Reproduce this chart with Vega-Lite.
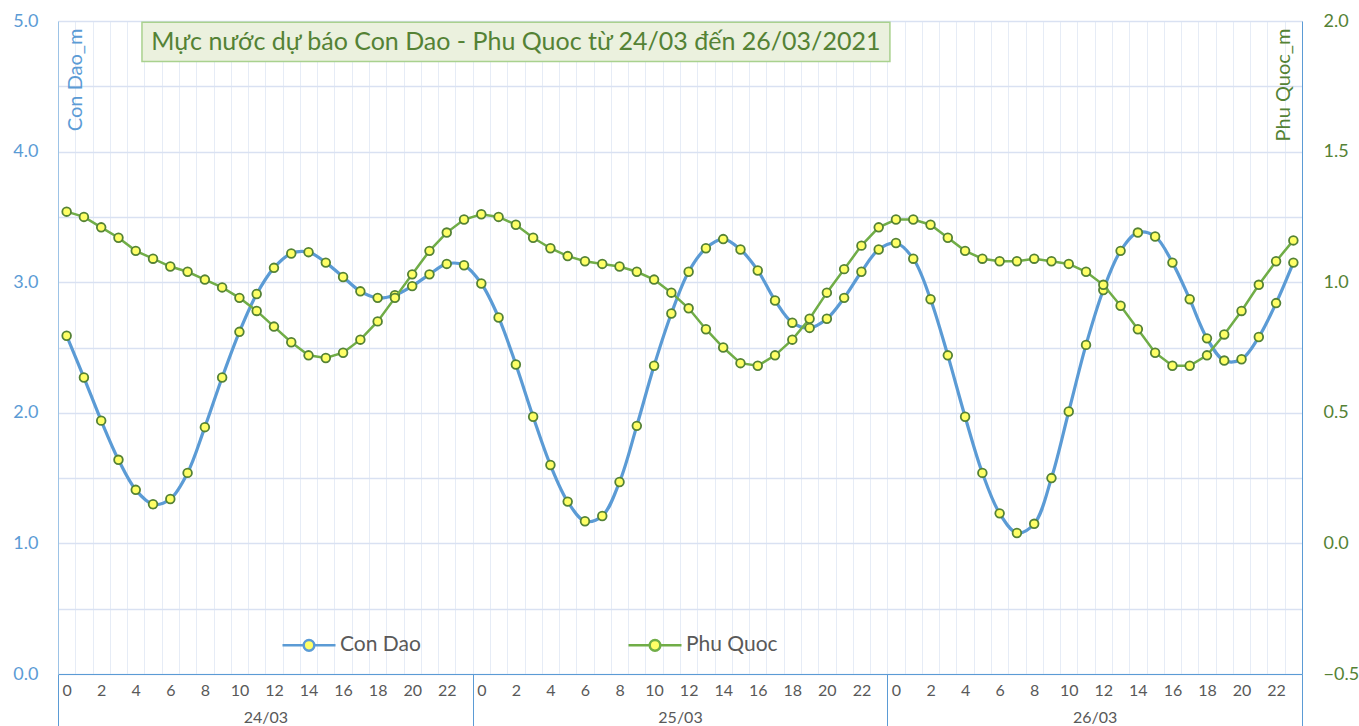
{
  "$schema": "https://vega.github.io/schema/vega-lite/v6.json",
  "autosize": {"type": "none"},
  "width": 1244,
  "height": 653,
  "padding": {"left": 58, "top": 21, "right": 57, "bottom": 52},
  "background": "white",
  "config": {"view": {"stroke": null}, "font": "Lato", "axis": {"labelFont": "Lato", "titleFont": "Lato"}, "legend": {"labelFont": "Lato"}},
  "data": {"values": [
    {"idx":0,"day":"24/03","hour":0,"con_dao":2.59,"phu_quoc":1.27},
    {"idx":1,"day":"24/03","hour":1,"con_dao":2.27,"phu_quoc":1.25},
    {"idx":2,"day":"24/03","hour":2,"con_dao":1.94,"phu_quoc":1.21},
    {"idx":3,"day":"24/03","hour":3,"con_dao":1.64,"phu_quoc":1.17},
    {"idx":4,"day":"24/03","hour":4,"con_dao":1.41,"phu_quoc":1.12},
    {"idx":5,"day":"24/03","hour":5,"con_dao":1.30,"phu_quoc":1.09},
    {"idx":6,"day":"24/03","hour":6,"con_dao":1.34,"phu_quoc":1.06},
    {"idx":7,"day":"24/03","hour":7,"con_dao":1.54,"phu_quoc":1.04},
    {"idx":8,"day":"24/03","hour":8,"con_dao":1.89,"phu_quoc":1.01},
    {"idx":9,"day":"24/03","hour":9,"con_dao":2.27,"phu_quoc":0.98},
    {"idx":10,"day":"24/03","hour":10,"con_dao":2.62,"phu_quoc":0.94},
    {"idx":11,"day":"24/03","hour":11,"con_dao":2.91,"phu_quoc":0.89},
    {"idx":12,"day":"24/03","hour":12,"con_dao":3.11,"phu_quoc":0.83},
    {"idx":13,"day":"24/03","hour":13,"con_dao":3.22,"phu_quoc":0.77},
    {"idx":14,"day":"24/03","hour":14,"con_dao":3.23,"phu_quoc":0.72},
    {"idx":15,"day":"24/03","hour":15,"con_dao":3.15,"phu_quoc":0.71},
    {"idx":16,"day":"24/03","hour":16,"con_dao":3.04,"phu_quoc":0.73},
    {"idx":17,"day":"24/03","hour":17,"con_dao":2.93,"phu_quoc":0.78},
    {"idx":18,"day":"24/03","hour":18,"con_dao":2.88,"phu_quoc":0.85},
    {"idx":19,"day":"24/03","hour":19,"con_dao":2.90,"phu_quoc":0.94},
    {"idx":20,"day":"24/03","hour":20,"con_dao":2.97,"phu_quoc":1.03},
    {"idx":21,"day":"24/03","hour":21,"con_dao":3.06,"phu_quoc":1.12},
    {"idx":22,"day":"24/03","hour":22,"con_dao":3.14,"phu_quoc":1.19},
    {"idx":23,"day":"24/03","hour":23,"con_dao":3.13,"phu_quoc":1.24},
    {"idx":24,"day":"25/03","hour":0,"con_dao":2.99,"phu_quoc":1.26},
    {"idx":25,"day":"25/03","hour":1,"con_dao":2.73,"phu_quoc":1.25},
    {"idx":26,"day":"25/03","hour":2,"con_dao":2.37,"phu_quoc":1.22},
    {"idx":27,"day":"25/03","hour":3,"con_dao":1.97,"phu_quoc":1.17},
    {"idx":28,"day":"25/03","hour":4,"con_dao":1.60,"phu_quoc":1.13},
    {"idx":29,"day":"25/03","hour":5,"con_dao":1.32,"phu_quoc":1.10},
    {"idx":30,"day":"25/03","hour":6,"con_dao":1.17,"phu_quoc":1.08},
    {"idx":31,"day":"25/03","hour":7,"con_dao":1.21,"phu_quoc":1.07},
    {"idx":32,"day":"25/03","hour":8,"con_dao":1.47,"phu_quoc":1.06},
    {"idx":33,"day":"25/03","hour":9,"con_dao":1.90,"phu_quoc":1.04},
    {"idx":34,"day":"25/03","hour":10,"con_dao":2.36,"phu_quoc":1.01},
    {"idx":35,"day":"25/03","hour":11,"con_dao":2.76,"phu_quoc":0.96},
    {"idx":36,"day":"25/03","hour":12,"con_dao":3.08,"phu_quoc":0.90},
    {"idx":37,"day":"25/03","hour":13,"con_dao":3.26,"phu_quoc":0.82},
    {"idx":38,"day":"25/03","hour":14,"con_dao":3.33,"phu_quoc":0.75},
    {"idx":39,"day":"25/03","hour":15,"con_dao":3.25,"phu_quoc":0.69},
    {"idx":40,"day":"25/03","hour":16,"con_dao":3.09,"phu_quoc":0.68},
    {"idx":41,"day":"25/03","hour":17,"con_dao":2.86,"phu_quoc":0.72},
    {"idx":42,"day":"25/03","hour":18,"con_dao":2.69,"phu_quoc":0.78},
    {"idx":43,"day":"25/03","hour":19,"con_dao":2.65,"phu_quoc":0.86},
    {"idx":44,"day":"25/03","hour":20,"con_dao":2.72,"phu_quoc":0.96},
    {"idx":45,"day":"25/03","hour":21,"con_dao":2.88,"phu_quoc":1.05},
    {"idx":46,"day":"25/03","hour":22,"con_dao":3.08,"phu_quoc":1.14},
    {"idx":47,"day":"25/03","hour":23,"con_dao":3.25,"phu_quoc":1.21},
    {"idx":48,"day":"26/03","hour":0,"con_dao":3.30,"phu_quoc":1.24},
    {"idx":49,"day":"26/03","hour":1,"con_dao":3.18,"phu_quoc":1.24},
    {"idx":50,"day":"26/03","hour":2,"con_dao":2.87,"phu_quoc":1.22},
    {"idx":51,"day":"26/03","hour":3,"con_dao":2.44,"phu_quoc":1.17},
    {"idx":52,"day":"26/03","hour":4,"con_dao":1.97,"phu_quoc":1.12},
    {"idx":53,"day":"26/03","hour":5,"con_dao":1.54,"phu_quoc":1.09},
    {"idx":54,"day":"26/03","hour":6,"con_dao":1.23,"phu_quoc":1.08},
    {"idx":55,"day":"26/03","hour":7,"con_dao":1.08,"phu_quoc":1.08},
    {"idx":56,"day":"26/03","hour":8,"con_dao":1.15,"phu_quoc":1.09},
    {"idx":57,"day":"26/03","hour":9,"con_dao":1.50,"phu_quoc":1.08},
    {"idx":58,"day":"26/03","hour":10,"con_dao":2.01,"phu_quoc":1.07},
    {"idx":59,"day":"26/03","hour":11,"con_dao":2.52,"phu_quoc":1.04},
    {"idx":60,"day":"26/03","hour":12,"con_dao":2.94,"phu_quoc":0.99},
    {"idx":61,"day":"26/03","hour":13,"con_dao":3.24,"phu_quoc":0.91},
    {"idx":62,"day":"26/03","hour":14,"con_dao":3.38,"phu_quoc":0.82},
    {"idx":63,"day":"26/03","hour":15,"con_dao":3.35,"phu_quoc":0.73},
    {"idx":64,"day":"26/03","hour":16,"con_dao":3.15,"phu_quoc":0.68},
    {"idx":65,"day":"26/03","hour":17,"con_dao":2.87,"phu_quoc":0.68},
    {"idx":66,"day":"26/03","hour":18,"con_dao":2.57,"phu_quoc":0.72},
    {"idx":67,"day":"26/03","hour":19,"con_dao":2.40,"phu_quoc":0.80},
    {"idx":68,"day":"26/03","hour":20,"con_dao":2.41,"phu_quoc":0.89},
    {"idx":69,"day":"26/03","hour":21,"con_dao":2.58,"phu_quoc":0.99},
    {"idx":70,"day":"26/03","hour":22,"con_dao":2.84,"phu_quoc":1.08},
    {"idx":71,"day":"26/03","hour":23,"con_dao":3.15,"phu_quoc":1.16}
  ]},
  "layer": [
    {
      "mark": {"type": "point", "opacity": 0},
      "encoding": {
        "x": {"field": "idx", "type": "quantitative", "scale": {"domain": [-0.5, 71.5], "nice": false, "zero": false},
          "axis": {"orient": "bottom", "values": [-0.5,0.5,1.5,2.5,3.5,4.5,5.5,6.5,7.5,8.5,9.5,10.5,11.5,12.5,13.5,14.5,15.5,16.5,17.5,18.5,19.5,20.5,21.5,22.5,23.5,24.5,25.5,26.5,27.5,28.5,29.5,30.5,31.5,32.5,33.5,34.5,35.5,36.5,37.5,38.5,39.5,40.5,41.5,42.5,43.5,44.5,45.5,46.5,47.5,48.5,49.5,50.5,51.5,52.5,53.5,54.5,55.5,56.5,57.5,58.5,59.5,60.5,61.5,62.5,63.5,64.5,65.5,66.5,67.5,68.5,69.5,70.5,71.5],
            "grid": true, "gridColor": "#E6ECF6", "gridWidth": 1, "labels": false, "ticks": false, "domain": false, "title": null}},
        "y": {"field": "con_dao", "type": "quantitative", "scale": {"domain": [0, 5], "nice": false, "zero": false},
          "axis": {"orient": "left", "values": [0,0.5,1,1.5,2,2.5,3,3.5,4,4.5,5],
            "labelExpr": "datum.value % 1 == 0 ? format(datum.value, '.1f') : ''",
            "grid": true, "gridColor": "#D9E1F2", "gridWidth": 1.5, "ticks": false, "domain": true, "domainColor": "#9DC3E6", "domainWidth": 1,
            "labelColor": "#5B9BD5", "labelFontSize": 18, "labelPadding": 20,
            "title": "Con Dao_m", "titleColor": "#5B9BD5", "titleFontSize": 20, "titleFontWeight": "normal",
            "titleAngle": -90, "titleX": 17, "titleY": 7, "titleAlign": "right", "titleBaseline": "middle"}}
      }
    },
    {
      "mark": {"type": "rect", "fill": "#EBF1DE", "stroke": "#A9D18E", "strokeWidth": 1.5},
      "data": {"values": [{}]},
      "encoding": {
        "x": {"datum": 4.36, "type": "quantitative", "scale": {"domain": [-0.5, 71.5], "nice": false, "zero": false}, "axis": null},
        "x2": {"datum": 47.65},
        "y": {"datum": 4.99, "type": "quantitative", "scale": {"domain": [0, 5], "nice": false, "zero": false}, "axis": null},
        "y2": {"datum": 4.69}
      }
    },
    {
      "mark": {"type": "text", "fontSize": 25, "color": "#548235", "align": "center", "baseline": "middle", "font": "Lato"},
      "data": {"values": [{}]},
      "encoding": {
        "x": {"datum": 26.0, "type": "quantitative", "scale": {"domain": [-0.5, 71.5], "nice": false, "zero": false}, "axis": null},
        "y": {"datum": 4.84, "type": "quantitative", "scale": {"domain": [0, 5], "nice": false, "zero": false}, "axis": null},
        "text": {"value": "Mực nước dự báo Con Dao - Phu Quoc từ 24/03 đến 26/03/2021"}
      }
    },
    {
      "mark": {"type": "line", "interpolate": "catmull-rom", "strokeWidth": 3.2},
      "encoding": {
        "x": {"field": "idx", "type": "quantitative", "scale": {"domain": [-0.5, 71.5], "nice": false, "zero": false},
          "axis": {"orient": "bottom", "values": [0,2,4,6,8,10,12,14,16,18,20,22,24,26,28,30,32,34,36,38,40,42,44,46,48,50,52,54,56,58,60,62,64,66,68,70],
            "labelExpr": "'' + (datum.value % 24)", "labelFlush": false, "labelOverlap": false,
            "ticks": false, "grid": false, "domain": true, "domainColor": "#5B9BD5", "domainWidth": 1,
            "labelColor": "#595959", "labelFontSize": 16, "labelPadding": 8, "title": null}},
        "y": {"field": "con_dao", "type": "quantitative", "scale": {"domain": [0, 5], "nice": false, "zero": false}, "axis": null},
        "color": {"datum": "Con Dao", "type": "nominal",
          "scale": {"domain": ["Con Dao", "Phu Quoc"], "range": ["#5B9BD5", "#70AD47"]},
          "legend": {"orient": "none", "legendX": 223, "legendY": 596, "direction": "horizontal", "title": null,
            "padding": 0, "labelFontSize": 21, "labelColor": "#595959", "labelOffset": 3,
            "symbolType": "M-1,0H-0.2M0.2,0H1M-0.2,0A0.2,0.2 0 1,1 0.2,0A0.2,0.2 0 1,1 -0.2,0Z",
            "symbolSize": 2809, "symbolStrokeWidth": 2.5, "columnPadding": 202,
            "encode": {"symbols": {"update": {"fill": {"value": "#FFFF66"}, "fillOpacity": {"value": 1}, "strokeWidth": {"value": 2.5}}}}}}
      }
    },
    {
      "mark": {"type": "point", "filled": true, "fill": "#FFFF66", "stroke": "#548235", "strokeWidth": 1.8, "size": 75, "opacity": 1},
      "encoding": {
        "x": {"field": "idx", "type": "quantitative", "scale": {"domain": [-0.5, 71.5], "nice": false, "zero": false}, "axis": null},
        "y": {"field": "con_dao", "type": "quantitative", "scale": {"domain": [0, 5], "nice": false, "zero": false}, "axis": null}
      }
    },
    {
      "mark": {"type": "line", "strokeWidth": 2.5},
      "encoding": {
        "x": {"field": "idx", "type": "quantitative", "scale": {"domain": [-0.5, 71.5], "nice": false, "zero": false}, "axis": null},
        "y": {"field": "phu_quoc", "type": "quantitative", "scale": {"domain": [-0.5, 2], "nice": false, "zero": false},
          "axis": {"orient": "right", "values": [-0.5,0,0.5,1,1.5,2], "format": ".1f",
            "grid": false, "ticks": false, "domain": true, "domainColor": "#5B9BD5", "domainWidth": 1,
            "labelColor": "#548235", "labelFontSize": 18, "labelPadding": 21,
            "title": "Phu Quoc_m", "titleColor": "#548235", "titleFontSize": 20, "titleFontWeight": "normal",
            "titleAngle": -90, "titleX": -19, "titleY": 7, "titleAlign": "right", "titleBaseline": "middle"}},
        "color": {"datum": "Phu Quoc", "type": "nominal"}
      }
    },
    {
      "mark": {"type": "point", "filled": true, "fill": "#FFFF66", "stroke": "#548235", "strokeWidth": 1.8, "size": 75, "opacity": 1},
      "encoding": {
        "x": {"field": "idx", "type": "quantitative", "scale": {"domain": [-0.5, 71.5], "nice": false, "zero": false}, "axis": null},
        "y": {"field": "phu_quoc", "type": "quantitative", "scale": {"domain": [-0.5, 2], "nice": false, "zero": false}, "axis": null}
      }
    },
    {
      "mark": {"type": "point", "opacity": 0},
      "encoding": {
        "x": {"field": "idx", "type": "quantitative", "scale": {"domain": [-0.5, 71.5], "nice": false, "zero": false},
          "axis": {"orient": "bottom", "values": [-0.5, 23.5, 47.5, 71.5], "ticks": true, "tickSize": 52, "tickColor": "#5B9BD5", "tickWidth": 1,
            "labels": false, "grid": false, "domain": false, "title": null}}
      }
    },
    {
      "mark": {"type": "point", "opacity": 0},
      "encoding": {
        "x": {"field": "idx", "type": "quantitative", "scale": {"domain": [-0.5, 71.5], "nice": false, "zero": false},
          "axis": {"orient": "bottom", "values": [11.5, 35.5, 59.5],
            "labelExpr": "datum.value < 20 ? '24/03' : (datum.value < 40 ? '25/03' : '26/03')",
            "ticks": false, "grid": false, "domain": false, "title": null, "labelFlush": false,
            "labelColor": "#595959", "labelFontSize": 16, "labelPadding": 35}}
      }
    }
  ],
  "resolve": {"scale": {"y": "independent"}, "axis": {"x": "independent", "y": "independent"}}
}
